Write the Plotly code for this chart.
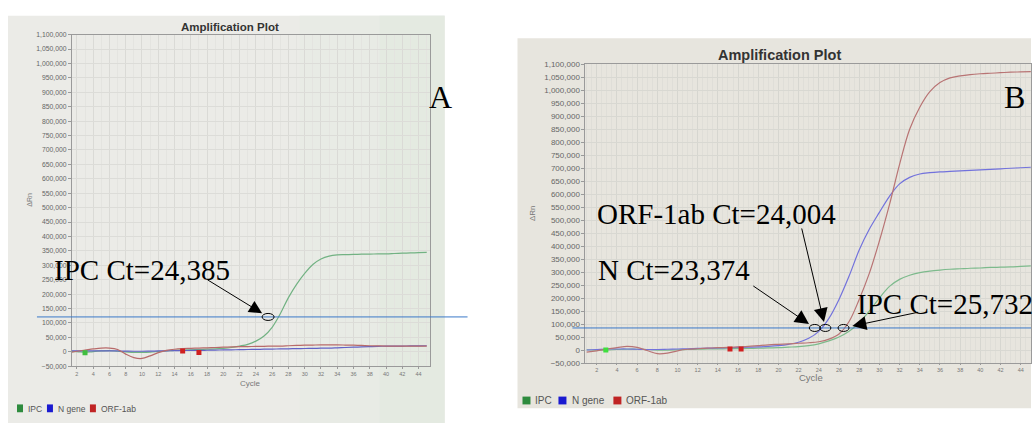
import plotly.graph_objects as go

W, H = 1032, 429
def PX(x): return x / W
def PY(y): return 1 - y / H

cycles = list(range(1, 46))

# ---- Panel A (ΔRn values) ----
a_ipc = [2000, 1000, -2000, 1000, 3000, 4000, 2000, 0, -2000, -2000, -1000, 1000, 3000, 5000,
         6000, 7000, 8000, 9000, 10000, 12000, 15000, 20000, 26000, 37000, 55000, 85000, 132000,
         188000, 234000, 272000, 303000, 322000, 332000, 336000, 337000, 338000, 338500, 339000,
         339500, 340000, 341000, 342000, 343000, 344000, 345000]
a_n = [3000, 3000, 3000, 3000, 3500, 3500, 3000, 2500, 2000, 2000, 2500, 3000, 3500, 4000, 4500,
       5000, 5000, 5500, 6000, 6500, 7000, 7500, 8000, 8500, 9000, 9500, 10000, 10500, 11000,
       11500, 12000, 12500, 13000, 14000, 15000, 16000, 17000, 18000, 19000, 19500, 20000,
       20000, 20500, 20500, 21000]
a_orf = [-3000, 2000, 6000, 10000, 13000, 13000, 8000, -8000, -20000, -23000, -14000, -3000,
         5000, 9000, 11000, 12000, 13000, 14000, 15000, 16000, 17000, 18000, 18000, 19000,
         19000, 20000, 20000, 21000, 22000, 23000, 23500, 24000, 24000, 24000, 23500, 23000,
         22000, 21000, 20500, 20000, 20000, 20000, 20000, 20000, 20000]

# ---- Panel B (ΔRn values) ----
b_ipc = [1000, 0, 0, 2000, 3000, 3000, 2000, 0, 0, 1000, 2000, 3000, 4000, 4500, 5000, 5500,
         6000, 7000, 8000, 9000, 11000, 13000, 17000, 24000, 35000, 50000, 72000, 105000,
         150000, 200000, 245000, 272000, 288000, 298000, 304000, 308000, 311000, 313000,
         315000, 316000, 318000, 319000, 320000, 322000, 324000]
b_n = [0, 2000, 4000, 4000, 4000, 3000, 2000, 2000, 3000, 4000, 5000, 6000, 7000, 8000, 9000,
       10000, 11000, 12000, 14000, 17000, 22000, 30000, 45000, 72000, 122000, 195000, 285000,
       385000, 465000, 530000, 592000, 640000, 665000, 678000, 683000, 686000, 688000, 690000,
       692000, 694000, 696000, 698000, 700000, 702000, 704000]
b_orf = [-8000, -3000, 4000, 9000, 14000, 10000, -2000, -14000, -12000, -3000, 3000, 5000,
         7000, 9000, 10000, 12000, 14000, 17000, 20000, 22000, 24000, 26000, 28000, 32000,
         42000, 62000, 110000, 195000, 295000, 420000, 560000, 715000, 850000, 935000, 995000,
         1030000, 1048000, 1056000, 1061000, 1064000, 1066000, 1068000, 1070000, 1071000, 1072000]

# baseline start/end markers (cycle, value)
a_mark_green = ([3], [-3000]); a_mark_red = ([15, 17], [3000, -2000])
b_mark_green = ([2.9], [0]); b_mark_red = ([15.2, 16.3], [4000, 4000])

# thresholds and Ct annotations
thr_a = 121000
thr_b = 85000
ct_text_a = ["IPC Ct=24,385"]
ct_text_b = ["N Ct=23,374", "ORF-1ab Ct=24,004", "IPC Ct=25,732"]
ct_pos_a = [25.5]
ct_pos_b = [23.6, 24.65, 26.45]

y_ticks = list(range(-50000, 1100001, 50000))
x_ticks = list(range(2, 45, 2))
series_names = ["IPC", "N gene", "ORF-1ab"]
legend_colors = ["#2e8b3e", "#1a1ad0", "#c02424"]

lineA = {"IPC": "#72b283", "N gene": "#6262c6", "ORF-1ab": "#b86a6a"}
lineB = {"IPC": "#7dba8c", "N gene": "#7272dc", "ORF-1ab": "#b87474"}

fig = go.Figure()
for name, vals in zip(series_names, [a_ipc, a_n, a_orf]):
    fig.add_trace(go.Scatter(x=cycles, y=vals, mode="lines", line=dict(color=lineA[name], width=1.2, shape="spline"),
                             xaxis="x", yaxis="y", showlegend=False))
for name, vals in zip(series_names, [b_ipc, b_n, b_orf]):
    fig.add_trace(go.Scatter(x=cycles, y=vals, mode="lines", line=dict(color=lineB[name], width=1.2, shape="spline"),
                             xaxis="x2", yaxis="y2", showlegend=False))
for (mx, my), col, ax, ay in [(a_mark_green, "#3fbf3f", "x", "y"), (a_mark_red, "#d02020", "x", "y"),
                              (b_mark_green, "#3fdf3f", "x2", "y2"), (b_mark_red, "#d02020", "x2", "y2")]:
    fig.add_trace(go.Scatter(x=mx, y=my, mode="markers", marker=dict(symbol="square", size=5, color=col),
                             xaxis=ax, yaxis=ay, showlegend=False))

shapes = []
# photo backgrounds
shapes.append(dict(type="rect", xref="paper", yref="paper", x0=PX(8), x1=PX(445), y0=PY(428), y1=PY(12),
                   fillcolor="#ebebe7", line=dict(width=0), layer="below"))
shapes.append(dict(type="rect", xref="paper", yref="paper", x0=PX(300), x1=PX(445), y0=PY(428), y1=PY(12),
                   fillcolor="#e8ebe5", line=dict(width=0), layer="below"))
shapes.append(dict(type="rect", xref="paper", yref="paper", x0=PX(380), x1=PX(445), y0=PY(428), y1=PY(12),
                   fillcolor="#e4eae1", line=dict(width=0), layer="below"))
shapes.append(dict(type="rect", xref="paper", yref="paper", x0=PX(518), x1=1, y0=PY(413), y1=PY(35),
                   fillcolor="#e7e5de", line=dict(width=0), layer="below"))
# threshold lines
shapes.append(dict(type="line", xref="paper", yref="y", x0=PX(37), x1=PX(468), y0=thr_a, y1=thr_a,
                   line=dict(color="#3a78c8", width=1)))
shapes.append(dict(type="line", xref="paper", yref="y2", x0=PX(573), x1=1, y0=thr_b, y1=thr_b,
                   line=dict(color="#3a78c8", width=1)))
# Ct ellipses
for c in ct_pos_a:
    shapes.append(dict(type="circle", xref="x", yref="y", xsizemode="pixel", ysizemode="pixel",
                       xanchor=c, yanchor=thr_a, x0=-6, x1=6, y0=-3.5, y1=3.5, line=dict(color="black", width=1)))
for c in ct_pos_b:
    shapes.append(dict(type="circle", xref="x2", yref="y2", xsizemode="pixel", ysizemode="pixel",
                       xanchor=c, yanchor=thr_b, x0=-5.5, x1=5.5, y0=-3.5, y1=3.5, line=dict(color="black", width=1)))
# legend swatches
for (x0, x1), col in zip([(17, 23), (47, 53), (90, 96)], legend_colors):
    shapes.append(dict(type="rect", xref="paper", yref="paper", x0=PX(x0), x1=PX(x1), y0=PY(417), y1=PY(409),
                       fillcolor=col, line=dict(width=0)))
for (x0, x1), col in zip([(523, 531), (559, 567), (614, 622)], legend_colors):
    shapes.append(dict(type="rect", xref="paper", yref="paper", x0=PX(x0), x1=PX(x1), y0=PY(409), y1=PY(401),
                       fillcolor=col, line=dict(width=0)))

ann = []
sans = "Liberation Sans"
serif = "Liberation Serif"
def txt(t, x, y, size, color="#333", family=sans, xanchor="center", angle=0, bold=False):
    ann.append(dict(text=f"<b>{t}</b>" if bold else t, x=PX(x), y=PY(y), xref="paper", yref="paper",
                    showarrow=False, xanchor=xanchor, yanchor="middle", textangle=angle,
                    font=dict(size=size, color=color, family=family)))

txt("Amplification Plot", 230, 24, 11.5, bold=True)
txt("Amplification Plot", 780, 52, 14.5, bold=True)
txt("ΔRn", 30, 200, 7, color="#777", angle=-90)
txt("ΔRn", 533, 213, 8, color="#777", angle=-90)
txt("Cycle", 251, 388, 8, color="#777")
txt("Cycle", 812, 381, 9.5, color="#777")
txt("A", 441, 95, 32, color="black", family=serif)
txt("B", 1015, 95, 32, color="black", family=serif)
for t, x in zip(series_names, [26, 56, 99]):
    txt(t, x, 413.5, 8.5, color="#555", xanchor="left")
for t, x in zip(series_names, [534, 571, 625]):
    txt(t, x, 405.5, 10, color="#555", xanchor="left")

# Ct labels
txt(ct_text_a[0], 52, 272, 29, color="black", family=serif, xanchor="left")
txt(ct_text_b[0], 597, 272, 29, color="black", family=serif, xanchor="left")
txt(ct_text_b[1], 596, 215, 29, color="black", family=serif, xanchor="left")
txt(ct_text_b[2], 856, 306, 29, color="black", family=serif, xanchor="left")

# arrows
def arrow(xref, yref, x, y, ax, ay, standoff, size):
    ann.append(dict(text="", x=x, y=y, xref=xref, yref=yref, showarrow=True, ax=ax, ay=ay,
                    axref="pixel", ayref="pixel", arrowhead=2, arrowsize=size, arrowwidth=1,
                    arrowcolor="black", standoff=standoff))
arrow("x", "y", ct_pos_a[0], thr_a, -62, -38, 7, 2.6)
arrow("x2", "y2", ct_pos_b[0], thr_b, -63, -43, 7, 2.8)
arrow("x2", "y2", ct_pos_b[1], thr_b, -24, -101, 6, 2.8)
arrow("x2", "y2", ct_pos_b[2], thr_b, 76, -16, 9, 2.8)

axis_common = dict(showline=True, linecolor="#9a9a9a", linewidth=1, mirror=True, ticks="outside",
                   tickcolor="#9a9a9a", zeroline=False)
fig.update_layout(
    width=W, height=H, autosize=False, margin=dict(l=0, r=0, t=0, b=0),
    paper_bgcolor="white", plot_bgcolor="rgba(0,0,0,0)", showlegend=False,
    xaxis=dict(domain=[PX(72), PX(430)], range=[1.39, 45.35], tickvals=x_ticks, anchor="y", ticklen=2,
               tickfont=dict(size=5.5, color="#777", family=sans), showgrid=True, gridcolor="#dadad6",
               minor=dict(dtick=1, showgrid=True, gridcolor="#e4e4e0"), **axis_common),
    yaxis=dict(domain=[PY(370), PY(31.3)], range=[-50000, 1100000], tickvals=y_ticks, tickformat=",d",
               anchor="x", ticklen=3, tickfont=dict(size=6.8, color="#666", family=sans), showgrid=True,
               gridcolor="#dcdcd8", **axis_common),
    xaxis2=dict(domain=[PX(586), 1.0], range=[0.88, 45.02], tickvals=x_ticks, anchor="y2", ticklen=1,
                tickfont=dict(size=5.5, color="#777", family=sans), showgrid=True, gridcolor="#d6d6d0",
                minor=dict(dtick=0.5, showgrid=True, gridcolor="#dfded8"), **axis_common),
    yaxis2=dict(domain=[PY(366.7), PY(61.7)], range=[-50000, 1100000], tickvals=y_ticks, tickformat=",d",
                anchor="x2", ticklen=3, tickfont=dict(size=8, color="#666", family=sans), showgrid=True,
                gridcolor="#d8d8d2", **axis_common),
    shapes=shapes, annotations=ann,
)
fig.write_html("out.html", config={"displayModeBar": False},
               post_script="document.body.style.margin='0';document.body.style.overflow='hidden';")
